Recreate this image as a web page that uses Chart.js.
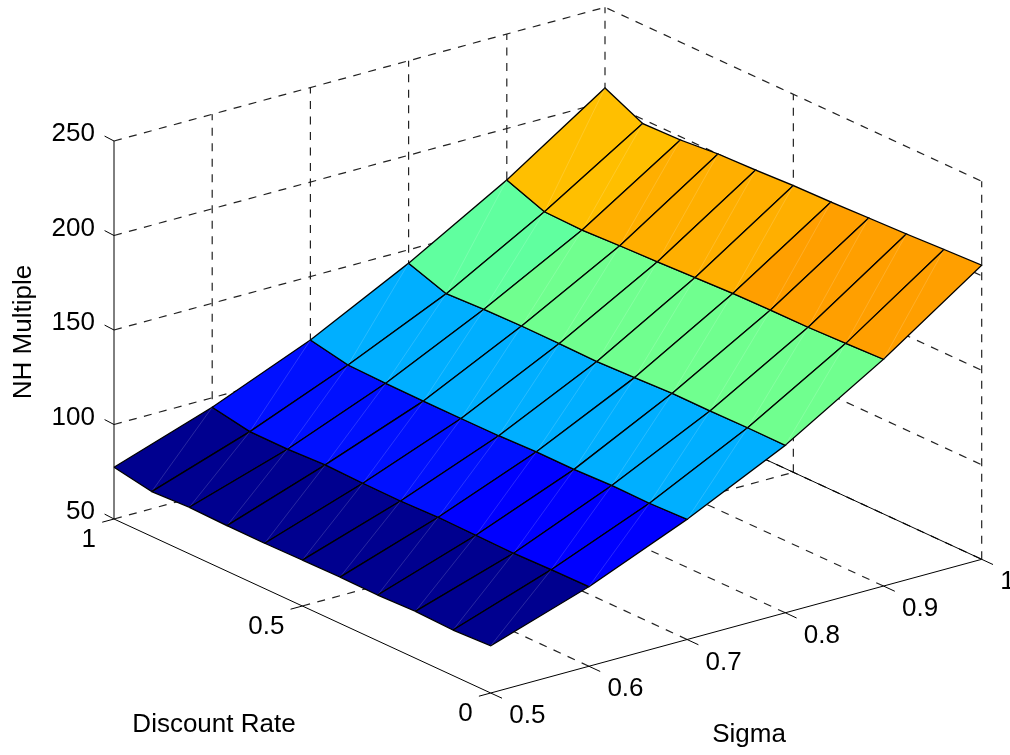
<!DOCTYPE html>
<html>
<head>
<meta charset="utf-8">
<style>
  html, body { margin: 0; padding: 0; background: #fff; }
  canvas { display: block; }
</style>
<script src="https://cdn.jsdelivr.net/npm/chart.js@4"></script>
</head>
<body>
<canvas id="surface" width="1010" height="755"></canvas>
<script>
// axis values
const sigmas = [0.5, 0.6, 0.7, 0.8, 0.9, 1];
const rates = [1, 0.9, 0.8, 0.7, 0.6, 0.5, 0.4, 0.3, 0.2, 0.1, 0];
const zTicks = [50, 100, 150, 200, 250];
const rateTicks = [1, 0.5, 0];
const sigmaTicks = [0.5, 0.6, 0.7, 0.8, 0.9, 1];

// NH multiple, one array per sigma, in the order of rates
const multipleSigma05 = [77.4, 73.7, 74.6, 74.1, 74, 74.3, 74.5, 74.2, 74.8, 74.1, 75];
const multipleSigma06 = [95, 91.3, 91.2, 92.1, 91.6, 91.4, 92, 91.7, 91.4, 91.9, 92.1];
const multipleSigma07 = [116.4, 112.4, 111.9, 111.7, 111.7, 111.8, 112.5, 112.4, 113.1, 112.9, 113.6];
const multipleSigma08 = [142.9, 136, 136.9, 137.3, 137.2, 136.9, 137.6, 138.5, 138.4, 138.7, 138.6];
const multipleSigma09 = [172.8, 165.2, 164.7, 165.6, 166.3, 167.2, 168, 168.4, 168.5, 169.2, 170];
const multipleSigma10 = [207.3, 197.7, 198.2, 200, 200.7, 201.7, 202.2, 203, 203.7, 204.7, 205.6];
const multiples = [multipleSigma05, multipleSigma06, multipleSigma07, multipleSigma08, multipleSigma09, multipleSigma10];

// flat colour of every patch (jet colormap steps), one row per sigma band
const navy = '#00008f', blue = '#0010ff', pure = '#0000ff', sky = '#00afff', mint = '#60ff9f', green = '#70ff8f';
const gold = '#ffbf00', amber = '#ffaf00', orange = '#ff9f00';
const patchColors = [
  Array(10).fill(navy),
  [blue, blue, blue, blue, blue, blue, pure, pure, pure, pure],
  Array(10).fill(sky),
  [mint, mint, green, green, green, green, green, green, green, green],
  [gold, gold, amber, amber, amber, amber, orange, orange, orange, orange]
];

// orthographic view of the matlab axes box
function project(s, r, z) {
  return {
    x: 490.7 + 982 * (s - 0.5) - 376.7 * r,
    y: 693 - 267.4 * (s - 0.5) - 174 * r - (z - 50) * 1.89
  };
}

const marks = [];

function addLine(points, opts) {
  marks.push(Object.assign({
    data: points,
    showLine: true,
    pointRadius: 0,
    borderColor: '#000',
    borderWidth: 1,
    fill: false
  }, opts));
}

const dashed = { borderDash: [8, 7.5], borderColor: '#222', borderWidth: 1.2 };

// walls and floor grid
zTicks.forEach(z => {
  addLine([project(0.5, 1, z), project(1, 1, z), project(1, 0, z)], dashed);
});
sigmaTicks.slice(1).forEach(s => {
  addLine([project(s, 1, 50), project(s, 1, 250)], dashed);
  if (s < 1) addLine([project(s, 0, 50), project(s, 1, 50)], dashed);
});
addLine([project(1, 0, 50), project(1, 0, 250)], dashed);
addLine([project(1, 0.5, 50), project(1, 0.5, 250)], dashed);
addLine([project(0.5, 0.5, 50), project(1, 0.5, 50), ], dashed);

// axes
addLine([project(0.5, 1, 50), project(0.5, 1, 250)]);
addLine([project(0.5, 1, 50), project(0.5, 0, 50), project(1, 0, 50), project(1, 1, 50)]);

// tick marks
zTicks.forEach(z => addLine([project(0.5, 1, z), project(0.5, 1.025, z + 0.3)]));
rateTicks.forEach(r => addLine([project(0.5, r, 50), project(0.488, r, 50)]));
sigmaTicks.forEach(s => addLine([project(s, 0, 50), project(s, -0.03, 50)]));

// surface patches
for (let b = 0; b < sigmas.length - 1; b++) {
  for (let i = 0; i < rates.length - 1; i++) {
    addLine([
      project(sigmas[b], rates[i], multiples[b][i]),
      project(sigmas[b + 1], rates[i], multiples[b + 1][i]),
      project(sigmas[b + 1], rates[i + 1], multiples[b + 1][i + 1]),
      project(sigmas[b], rates[i + 1], multiples[b][i + 1]),
      project(sigmas[b], rates[i], multiples[b][i])
    ], { fill: 'shape', backgroundColor: patchColors[b][i], borderWidth: 1.3 });
    // light seam along the patch diagonal
    addLine([
      project(sigmas[b + 1], rates[i], multiples[b + 1][i]),
      project(sigmas[b], rates[i + 1], multiples[b][i + 1])
    ], { borderColor: 'rgba(255,255,255,0.2)', borderWidth: 0.8 });
  }
}

// chart.js paints the first dataset last, so flip the list
marks.reverse();

const axisText = {
  id: 'axisText',
  afterDraw(chart) {
    const { ctx, scales } = chart;
    const put = (text, p, dx, dy, align) => {
      ctx.textAlign = align;
      ctx.fillText(text, scales.x.getPixelForValue(p.x) + dx, scales.y.getPixelForValue(p.y) + dy);
    };
    ctx.save();
    ctx.fillStyle = '#000';
    ctx.font = '26px "Liberation Sans", Arial, sans-serif';
    ctx.textBaseline = 'middle';
    zTicks.forEach(z => put(String(z), project(0.5, 1, z), -19, -7, 'right'));
    rateTicks.forEach(r => put(String(r), project(0.5, r, 50), -18, 21, 'right'));
    sigmaTicks.forEach(s => put(String(s), project(s, 0, 50), 18.5, 23, 'left'));
    ctx.textAlign = 'center';
    ctx.fillText('Discount Rate', 214, 725);
    ctx.fillText('Sigma', 749, 735);
    ctx.translate(24, 332);
    ctx.rotate(-Math.PI / 2);
    ctx.fillText('NH Multiple', 0, 0);
    ctx.restore();
  }
};

new Chart(document.getElementById('surface').getContext('2d'), {
  type: 'scatter',
  data: { datasets: marks },
  options: {
    responsive: false,
    animation: false,
    events: [],
    plugins: { legend: { display: false }, tooltip: { enabled: false } },
    scales: {
      x: { type: 'linear', display: false, min: 0, max: 1010 },
      y: { type: 'linear', display: false, min: 0, max: 755, reverse: true }
    }
  },
  plugins: [axisText]
});
</script>
</body>
</html>
